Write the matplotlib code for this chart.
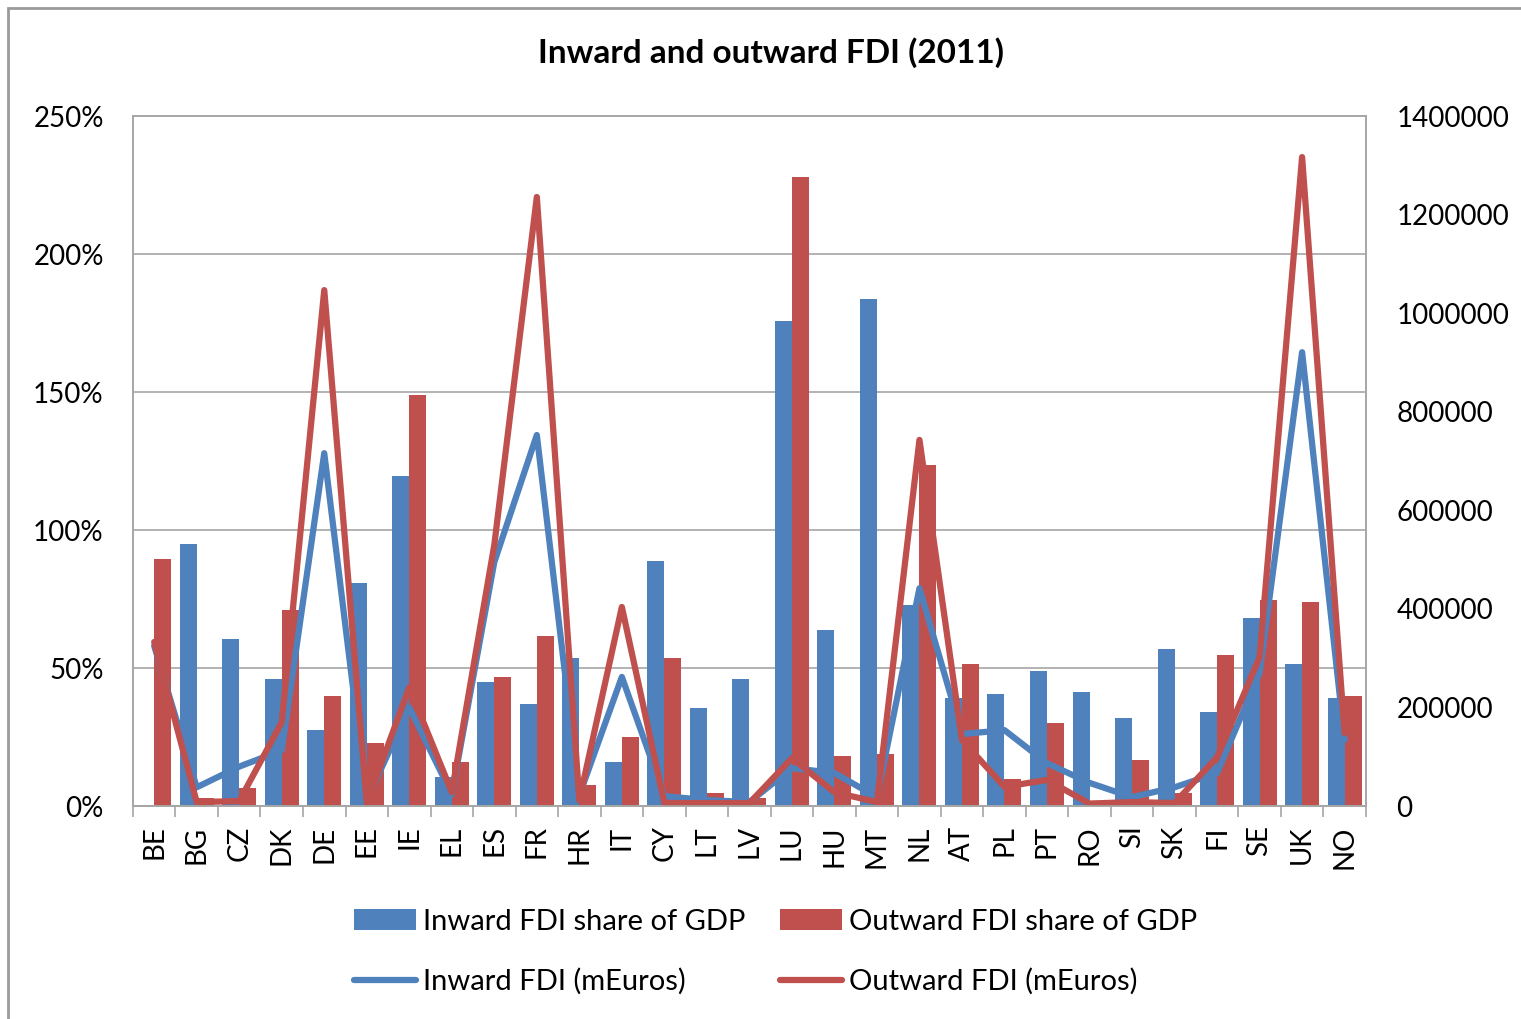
import matplotlib
matplotlib.use("Agg")
import matplotlib.pyplot as plt
import numpy as np
from matplotlib.ticker import FuncFormatter, MultipleLocator
from matplotlib.patches import Rectangle

plt.rcParams['font.family'] = ['Lato', 'DejaVu Sans']

countries = ["BE", "BG", "CZ", "DK", "DE", "EE", "IE", "EL", "ES", "FR", "HR", "IT", "CY", "LT", "LV",
             "LU", "HU", "MT", "NL", "AT", "PL", "PT", "RO", "SI", "SK", "FI", "SE", "UK", "NO"]

inward_share = [0, 95, 60.5, 46, 27.5, 81, 119.5, 10.5, 45, 37, 53.6, 16, 88.8, 35.5, 46,
                175.7, 63.8, 183.7, 72.8, 39, 40.6, 49, 41.4, 32, 57, 34, 68, 51.4, 39]
outward_share = [89.5, 3, 6.5, 71, 40, 23, 149, 16, 46.7, 61.6, 7.6, 25, 53.6, 4.7, 3,
                 228, 18, 19, 123.5, 51.4, 9.8, 30, 0.5, 16.6, 4.7, 54.7, 74.6, 74, 40]

inward_meur = [325000, 38000, 80000, 113000, 716000, 12000, 200000, 24000, 495000, 753000, 22000,
               262000, 20000, 12000, 8000, 77000, 67000, 18000, 442000, 146000, 154000, 87000,
               47000, 18000, 38000, 67000, 270000, 921000, 134000]
outward_meur = [333000, 8000, 10000, 170000, 1047000, 6000, 241000, 28000, 530000, 1236000, 12000,
                404000, 6000, 6000, 6000, 97000, 28000, 8000, 743000, 134000, 39000, 53000,
                5000, 8000, 6000, 99000, 302000, 1317000, 148000]

blue = "#4F81BD"
red = "#C0504D"
grid_gray = "#A6A6A6"

fig = plt.figure(figsize=(15.21, 10.19), dpi=100)
fig.patch.set_facecolor("white")
ax = fig.add_axes([0.0874, 0.209, 0.8106, 0.677])
ax2 = ax.twinx()

x = np.arange(len(countries))
w = 0.4
b1 = ax.bar(x - w / 2, inward_share, width=w, color=blue, label="Inward FDI share of GDP", zorder=2)
b2 = ax.bar(x + w / 2, outward_share, width=w, color=red, label="Outward FDI share of GDP", zorder=2)

l1, = ax2.plot(x, inward_meur, color=blue, lw=4.5, solid_capstyle="round", solid_joinstyle="round",
               label="Inward FDI (mEuros)")
l2, = ax2.plot(x, outward_meur, color=red, lw=4.5, solid_capstyle="round", solid_joinstyle="round",
               label="Outward FDI (mEuros)")

ax.set_xlim(-0.5, len(countries) - 0.5)
ax.set_ylim(0, 250)
ax.yaxis.set_major_locator(MultipleLocator(50))
ax.yaxis.set_major_formatter(FuncFormatter(lambda v, p: f"{int(v)}%"))
ax.grid(axis="y", color=grid_gray, lw=1.2, zorder=0)
ax.set_axisbelow(True)

ax2.set_ylim(0, 1400000)
ax2.yaxis.set_major_locator(MultipleLocator(200000))
ax2.yaxis.set_major_formatter(FuncFormatter(lambda v, p: f"{int(v)}"))

ax.set_xticks(x)
ax.set_xticklabels(countries, rotation=90, fontsize=20)
ax.set_xticks(np.arange(-0.5, len(countries)), minor=True)
ax.tick_params(axis="x", which="major", length=0, pad=14)
ax.tick_params(axis="x", which="minor", length=8, color=grid_gray, width=1.2)
ax.tick_params(axis="y", length=0, labelsize=20, pad=21)
ax2.tick_params(axis="y", length=0, labelsize=20, pad=22)

for a in (ax, ax2):
    for s in a.spines.values():
        s.set_color(grid_gray)
        s.set_linewidth(1.2)

fig.suptitle("Inward and outward FDI (2011)", fontsize=24, fontweight="bold", x=0.507, y=0.948,
             va="center")

fig.legend([b1, l1, b2, l2],
           ["Inward FDI share of GDP", "Inward FDI (mEuros)",
            "Outward FDI share of GDP", "Outward FDI (mEuros)"],
           ncol=2, loc="center", bbox_to_anchor=(0.51, 0.066), frameon=False,
           fontsize=21, handlelength=2.1, handletextpad=0.25, columnspacing=1.2,
           labelspacing=1.15, handleheight=0.7)

fig.patches.append(Rectangle((0.005, -0.01), 1.1, 1.0025, transform=fig.transFigure,
                             fill=False, edgecolor="#9A9A9A", lw=2.0))

fig.savefig("out.png", dpi=100, facecolor="white")
